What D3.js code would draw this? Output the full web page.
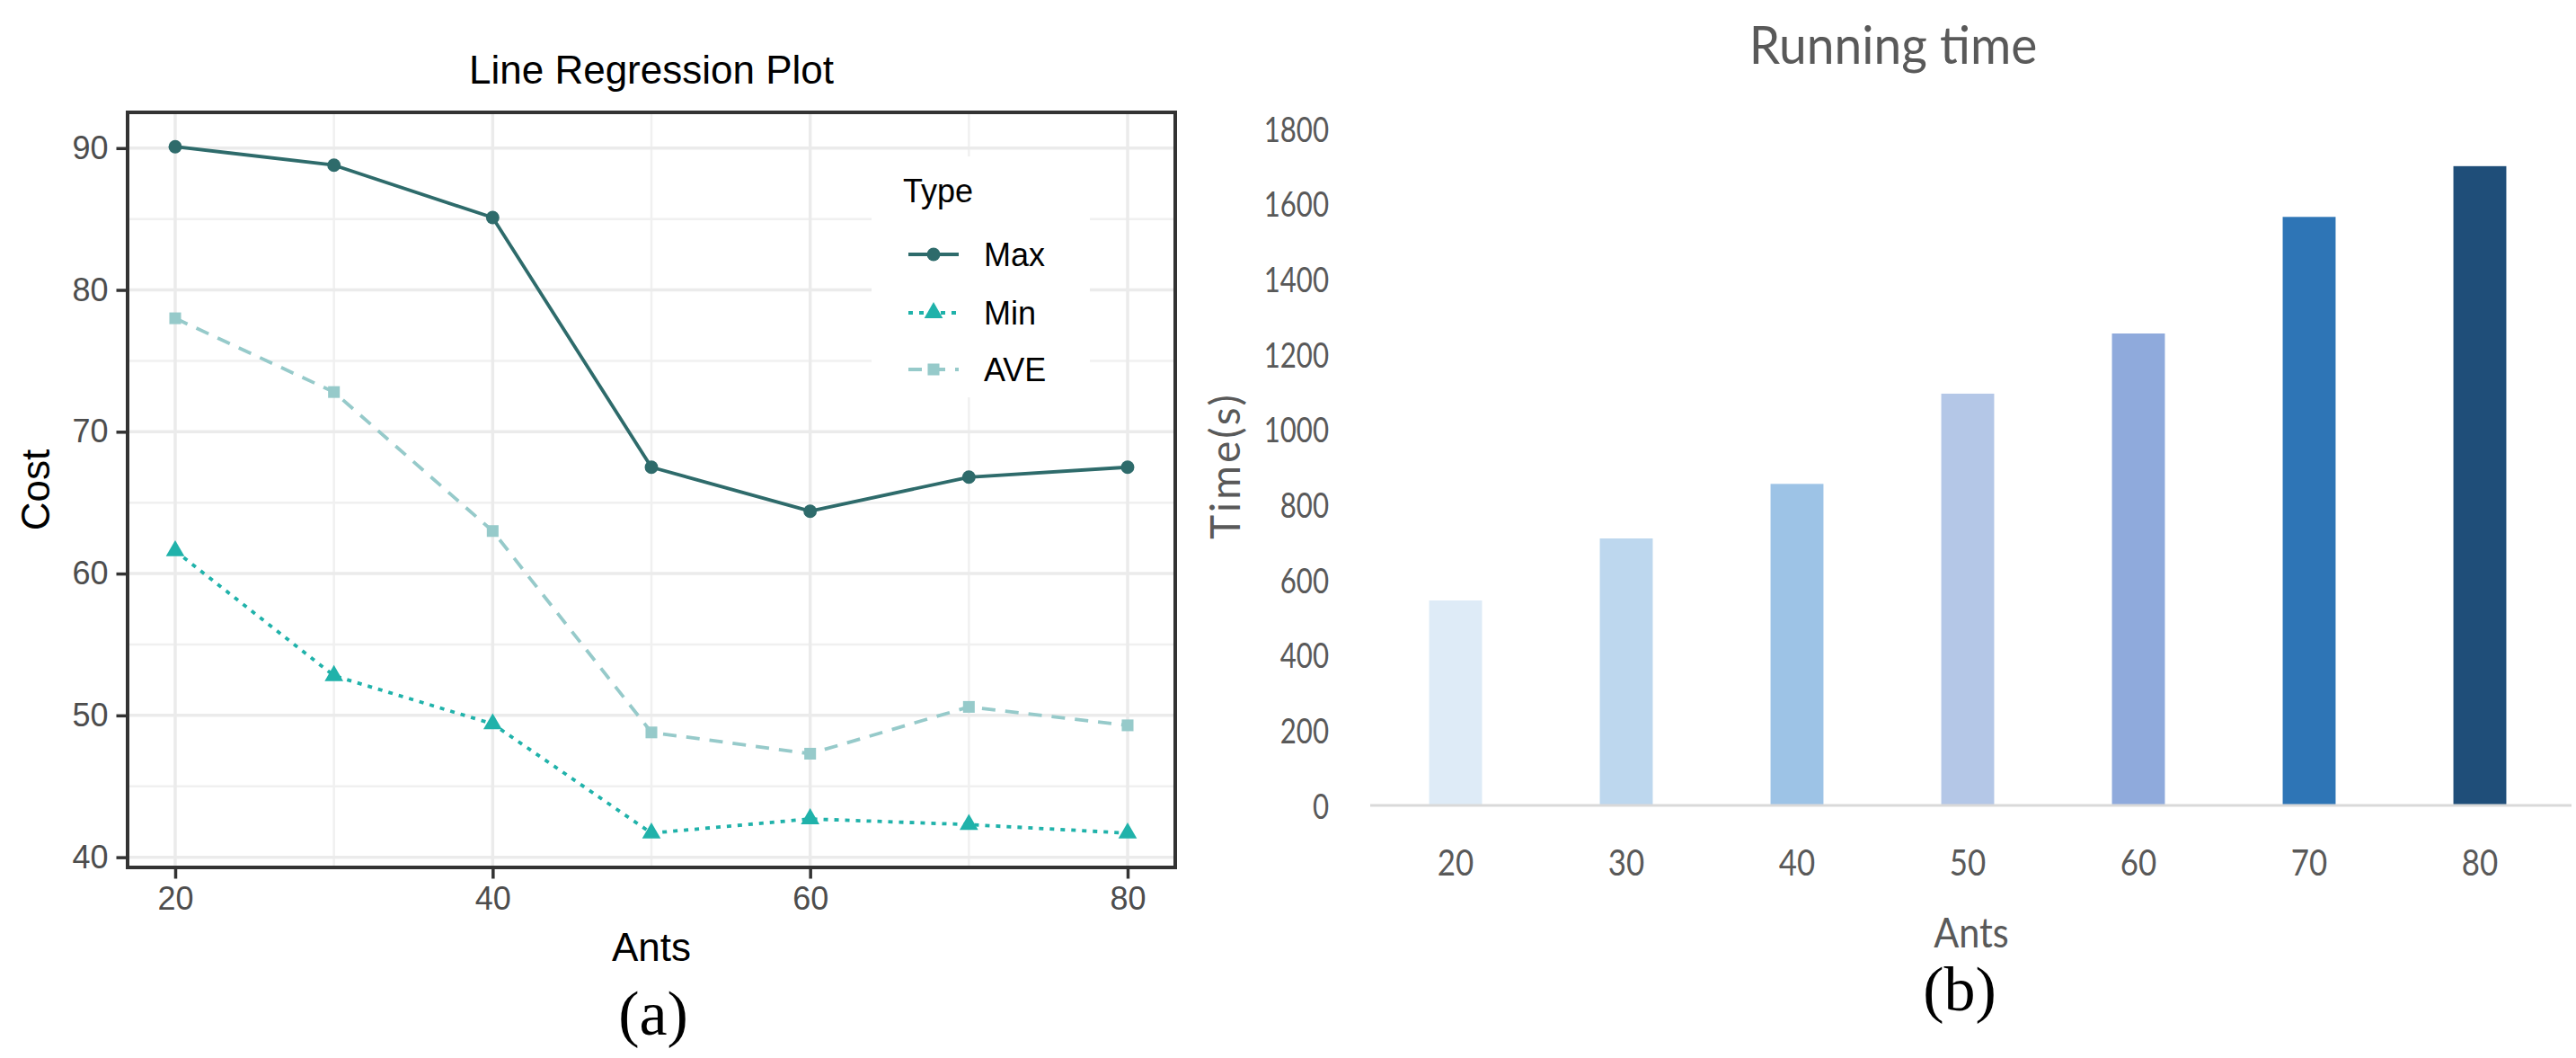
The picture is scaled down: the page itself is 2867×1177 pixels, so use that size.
<!DOCTYPE html>
<html>
<head>
<meta charset="utf-8">
<script src="https://cdn.jsdelivr.net/npm/d3@7"></script>
<style>
  html, body { margin: 0; padding: 0; background: #fff; }
  svg { display: block; }
</style>
</head>
<body>
<svg id="chart" width="2867" height="1177"></svg>
<script>
// ---------------- DATA ----------------
const ants = [20, 30, 40, 50, 60, 70, 80];
const maxCost = [90.1, 88.8, 85.1, 67.5, 64.4, 66.8, 67.5];
const minCost = [61.6, 52.8, 49.4, 41.7, 42.7, 42.3, 41.7];
const aveCost = [78.0, 72.8, 63.0, 48.8, 47.3, 50.6, 49.3];
const seriesNames = ["Max", "Min", "AVE"];
const costTicks = [40, 50, 60, 70, 80, 90];
const costMinorTicks = [45, 55, 65, 75, 85];
const antTicks = [20, 40, 60, 80];
const antMinorTicks = [30, 50, 70];

const runTime = [545, 710, 855, 1095, 1255, 1565, 1700];
const timeTicks = [0, 200, 400, 600, 800, 1000, 1200, 1400, 1600, 1800];
const barColors = ["#DEEBF7", "#BDD7EE", "#9DC3E6", "#B4C7E7", "#8FAADC", "#2E75B6", "#1F4E79"];

const svg = d3.select("#chart");

// ================= LEFT: Line Regression Plot =================
(function () {
  const L = { left: 142, right: 1308, top: 125, bottom: 965 };
  const all = maxCost.concat(minCost, aveCost);
  const lo = d3.min(all), hi = d3.max(all), pad = (hi - lo) * 0.05;
  const xPad = (d3.max(ants) - d3.min(ants)) * 0.05;
  const x = d3.scaleLinear().domain([d3.min(ants) - xPad, d3.max(ants) + xPad]).range([L.left, L.right]);
  const y = d3.scaleLinear().domain([lo - pad, hi + pad]).range([L.bottom, L.top]);
  const font = "'Liberation Sans', Arial, Helvetica, sans-serif";
  const g = svg.append("g");

  // grid
  g.selectAll(".hminor").data(costMinorTicks).join("line")
    .attr("x1", L.left).attr("x2", L.right).attr("y1", d => y(d)).attr("y2", d => y(d))
    .attr("stroke", "#F0F0F0").attr("stroke-width", 2.5);
  g.selectAll(".vminor").data(antMinorTicks).join("line")
    .attr("y1", L.top).attr("y2", L.bottom).attr("x1", d => x(d)).attr("x2", d => x(d))
    .attr("stroke", "#F0F0F0").attr("stroke-width", 2.5);
  g.selectAll(".hmajor").data(costTicks).join("line")
    .attr("x1", L.left).attr("x2", L.right).attr("y1", d => y(d)).attr("y2", d => y(d))
    .attr("stroke", "#EBEBEB").attr("stroke-width", 3.5);
  g.selectAll(".vmajor").data(antTicks).join("line")
    .attr("y1", L.top).attr("y2", L.bottom).attr("x1", d => x(d)).attr("x2", d => x(d))
    .attr("stroke", "#EBEBEB").attr("stroke-width", 3.5);

  // legend background (covers grid)
  g.append("rect").attr("x", 970).attr("y", 174).attr("width", 243).attr("height", 268).attr("fill", "#fff");

  const colors = { Max: "#2E6B6B", Min: "#20B2AA", AVE: "#96CACA" };
  const dashes = { Max: null, Min: "5,7", AVE: "15,11" };
  const vals = { Max: maxCost, Min: minCost, AVE: aveCost };
  const lw = 3.8;

  const line = d3.line().x(d => x(d[0])).y(d => y(d[1]));
  const drawOrder = ["AVE", "Min", "Max"];
  drawOrder.forEach(name => {
    const pts = ants.map((a, i) => [a, vals[name][i]]);
    g.append("path").datum(pts).attr("d", line)
      .attr("fill", "none").attr("stroke", colors[name]).attr("stroke-width", lw)
      .attr("stroke-dasharray", dashes[name]).attr("stroke-linejoin", "round");
  });
  const sym = {
    Max: d3.symbol(d3.symbolCircle, 175),
    Min: d3.symbol(d3.symbolTriangle, 185),
    AVE: d3.symbol(d3.symbolSquare, 170)
  };
  drawOrder.forEach(name => {
    g.selectAll(".m" + name).data(ants.map((a, i) => [a, vals[name][i]])).join("path")
      .attr("transform", d => `translate(${x(d[0])},${y(d[1])})`)
      .attr("d", sym[name]()).attr("fill", colors[name]);
  });

  // panel border
  g.append("rect").attr("x", L.left).attr("y", L.top)
    .attr("width", L.right - L.left).attr("height", L.bottom - L.top)
    .attr("fill", "none").attr("stroke", "#333").attr("stroke-width", 4);

  // axes
  const ax = g.append("g").attr("transform", `translate(0,${L.bottom + 1.5})`)
    .call(d3.axisBottom(x).tickValues(antTicks).tickSize(11).tickPadding(9));
  const ay = g.append("g").attr("transform", `translate(${L.left - 1.5},0)`)
    .call(d3.axisLeft(y).tickValues(costTicks).tickSize(11).tickPadding(9));
  [ax, ay].forEach(a => {
    a.select(".domain").remove();
    a.selectAll("line").attr("stroke", "#333").attr("stroke-width", 3.5);
    a.selectAll("text").attr("font-family", font).attr("font-size", 36).attr("fill", "#4D4D4D");
  });

  // titles
  g.append("text").attr("x", (L.left + L.right) / 2).attr("y", 93).attr("text-anchor", "middle")
    .attr("font-family", font).attr("font-size", 44).attr("fill", "#000").text("Line Regression Plot");
  g.append("text").attr("x", (L.left + L.right) / 2).attr("y", 1069).attr("text-anchor", "middle")
    .attr("font-family", font).attr("font-size", 44).attr("fill", "#000").text("Ants");
  g.append("text").attr("transform", `translate(55,${(L.top + L.bottom) / 2}) rotate(-90)`)
    .attr("text-anchor", "middle").attr("font-family", font).attr("font-size", 44).attr("fill", "#000").text("Cost");

  // legend
  g.append("text").attr("x", 1005).attr("y", 225).attr("font-family", font).attr("font-size", 36)
    .attr("fill", "#000").text("Type");
  const legY = [283, 348, 411];
  seriesNames.forEach((name, i) => {
    const ly = legY[i];
    g.append("line").attr("x1", 1011).attr("x2", 1067).attr("y1", ly).attr("y2", ly)
      .attr("stroke", colors[name]).attr("stroke-width", lw).attr("stroke-dasharray", dashes[name]);
    g.append("path").attr("transform", `translate(1039,${ly})`).attr("d", sym[name]()).attr("fill", colors[name]);
    g.append("text").attr("x", 1095).attr("y", ly + 13).attr("font-family", font).attr("font-size", 36)
      .attr("fill", "#000").text(name);
  });

  // caption
  g.append("text").attr("x", 727).attr("y", 1151).attr("text-anchor", "middle")
    .attr("font-family", "'Liberation Serif', 'Times New Roman', serif").attr("font-size", 70)
    .attr("fill", "#000").text("(a)");
})();

// ================= RIGHT: Running time =================
(function () {
  const R = { left: 1525, right: 2855, base: 896, top: 143 };
  const font = "Lato, 'Open Sans', sans-serif";
  const tc = "#595959";
  const x = d3.scaleBand().domain(ants.map(String)).range([R.left, R.right])
    .paddingInner(0.69).paddingOuter(0.345);
  const y = d3.scaleLinear().domain([0, d3.max(timeTicks)]).range([R.base, R.top]);
  const g = svg.append("g");

  g.selectAll(".bar").data(runTime).join("rect")
    .attr("x", (d, i) => x(String(ants[i]))).attr("width", x.bandwidth())
    .attr("y", d => y(d)).attr("height", d => y(0) - y(d))
    .attr("fill", (d, i) => barColors[i]);

  // baseline
  g.append("line").attr("x1", R.left).attr("x2", 2862).attr("y1", R.base).attr("y2", R.base)
    .attr("stroke", "#D9D9D9").attr("stroke-width", 3);

  // y axis labels
  const ay = g.append("g").attr("transform", `translate(1479,0)`)
    .call(d3.axisLeft(y).tickValues(timeTicks).tickFormat(d3.format("d")).tickSize(0).tickPadding(0));
  ay.select(".domain").remove();
  ay.selectAll("text").attr("x", 0).attr("dy", "0.36em")
    .attr("transform", "scale(0.8,1)")
    .attr("font-family", font).attr("font-size", 39).attr("fill", tc);

  // x axis labels
  const ax = g.append("g").attr("transform", `translate(0,974)`)
    .call(d3.axisBottom(x).tickSize(0).tickPadding(0));
  ax.select(".domain").remove();
  ax.selectAll("text").attr("y", 0).attr("dy", 0)
    .attr("transform", "scale(0.85,1)")
    .attr("font-family", font).attr("font-size", 41).attr("fill", tc);

  // titles
  g.append("text").attr("transform", "translate(2107,71) scale(0.95,1)").attr("text-anchor", "middle")
    .attr("font-family", font).attr("font-size", 58).attr("fill", tc).text("Running time");
  g.append("text").attr("transform", "translate(2194,1054) scale(0.9,1)").attr("text-anchor", "middle")
    .attr("font-family", font).attr("font-size", 46).attr("fill", tc).text("Ants");
  g.append("text").attr("transform", "translate(1380,518) rotate(-90)").attr("text-anchor", "middle")
    .attr("font-family", font).attr("font-size", 46).attr("letter-spacing", 3).attr("fill", tc).text("Time(s)");

  g.append("text").attr("x", 2181).attr("y", 1124).attr("text-anchor", "middle")
    .attr("font-family", "'Liberation Serif', 'Times New Roman', serif").attr("font-size", 70)
    .attr("fill", "#000").text("(b)");
})();
</script>
</body>
</html>
